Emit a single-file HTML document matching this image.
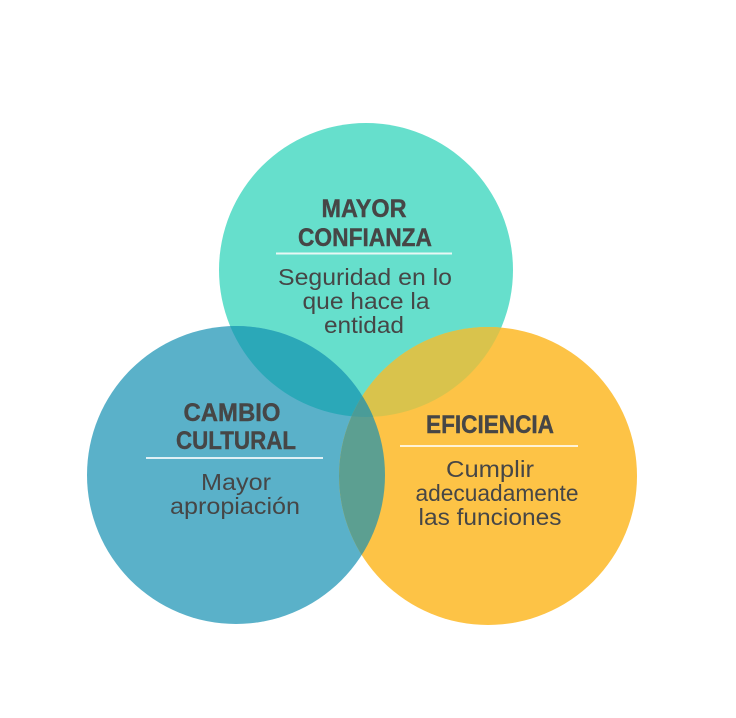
<!DOCTYPE html>
<html><head><meta charset="utf-8"><style>
html,body{margin:0;padding:0;background:#fff;}
svg{display:block}
text{font-family:"Liberation Sans",sans-serif;fill:#464646;text-anchor:middle}
.t{font-weight:900;font-size:25px;stroke:#464646;stroke-width:0.4}
.s{font-size:23px}
</style></head><body>
<svg width="736" height="718" viewBox="0 0 736 718">
<defs>
<clipPath id="cT"><circle cx="366" cy="270" r="147"/></clipPath>
<clipPath id="cL"><circle cx="236" cy="475" r="149"/></clipPath>
<clipPath id="cR"><circle cx="488" cy="476" r="149"/></clipPath>
</defs>
<rect width="736" height="718" fill="#fff"/>
<circle cx="366" cy="270" r="147" fill="#66dfcc"/>
<circle cx="236" cy="475" r="149" fill="#5ab1c9"/>
<circle cx="488" cy="476" r="149" fill="#fdc346"/>
<g clip-path="url(#cT)"><circle cx="236" cy="475" r="149" fill="#2ba8b8"/></g>
<g clip-path="url(#cT)"><circle cx="488" cy="476" r="149" fill="#d9c34c"/></g>
<g clip-path="url(#cL)"><circle cx="488" cy="476" r="149" fill="#5c9f91"/></g>
<g clip-path="url(#cT)"><g clip-path="url(#cL)"><circle cx="488" cy="476" r="149" fill="#4a9c98"/></g></g>

<text class="t" x="364" y="217" textLength="85" lengthAdjust="spacingAndGlyphs">MAYOR</text>
<text class="t" x="365" y="246" textLength="134" lengthAdjust="spacingAndGlyphs">CONFIANZA</text>
<line x1="276" y1="253.5" x2="452" y2="253.5" stroke="#e8f7f4" stroke-width="2"/>
<text class="s" x="365" y="285" textLength="174" lengthAdjust="spacingAndGlyphs">Seguridad en lo</text>
<text class="s" x="366" y="309" textLength="127" lengthAdjust="spacingAndGlyphs">que hace la</text>
<text class="s" x="364" y="333" textLength="80" lengthAdjust="spacingAndGlyphs">entidad</text>

<text class="t" x="232" y="421" textLength="97" lengthAdjust="spacingAndGlyphs">CAMBIO</text>
<text class="t" x="236" y="449" textLength="120" lengthAdjust="spacingAndGlyphs">CULTURAL</text>
<line x1="146" y1="458" x2="323" y2="458" stroke="#dff0f5" stroke-width="2"/>
<text class="s" x="236" y="490" textLength="70" lengthAdjust="spacingAndGlyphs">Mayor</text>
<text class="s" x="235" y="514" textLength="130" lengthAdjust="spacingAndGlyphs">apropiación</text>

<text class="t" x="490" y="433" textLength="128" lengthAdjust="spacingAndGlyphs">EFICIENCIA</text>
<line x1="400" y1="446" x2="578" y2="446" stroke="#fff3d6" stroke-width="2"/>
<text class="s" x="490" y="477" textLength="88" lengthAdjust="spacingAndGlyphs">Cumplir</text>
<text class="s" x="497" y="501" textLength="163" lengthAdjust="spacingAndGlyphs">adecuadamente</text>
<text class="s" x="490" y="525" textLength="143" lengthAdjust="spacingAndGlyphs">las funciones</text>
</svg>
</body></html>
